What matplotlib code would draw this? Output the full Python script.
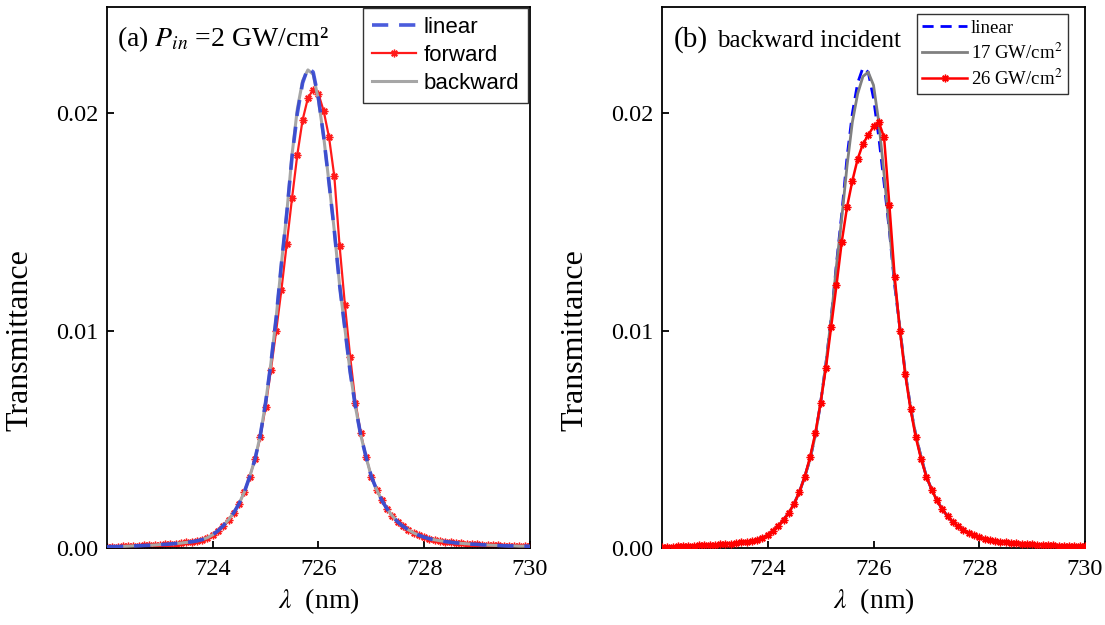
import matplotlib
matplotlib.use('Agg')
import matplotlib.pyplot as plt
import numpy as np

plt.rcParams['font.family'] = ['Liberation Serif', 'DejaVu Serif']
plt.rcParams['mathtext.fontset'] = 'stix'

# wavelength grid (nm), 0.1 nm step
wavelength = np.linspace(722, 730, 81)

# transmittance, 722.0 ... 730.0
linear = [
    0.00007, 0.00008, 0.00008, 0.00009, 0.00010, 0.00011, 0.00012, 0.00013, 0.00014, 0.00015,
    0.00017, 0.00018, 0.00020, 0.00022, 0.00024, 0.00027, 0.00030, 0.00034, 0.00040, 0.00049,
    0.00062, 0.00081, 0.00104, 0.00132, 0.00164, 0.00206, 0.00260, 0.00330, 0.00410, 0.00520,
    0.00670, 0.00850, 0.01060, 0.01310, 0.01540, 0.01800, 0.02000, 0.02140, 0.02210, 0.02190,
    0.02070, 0.01890, 0.01680, 0.01460, 0.01210, 0.01010, 0.00810, 0.00650, 0.00520, 0.00420,
    0.00330, 0.00270, 0.00220, 0.00180, 0.00148, 0.00121, 0.00101, 0.00085, 0.00071, 0.00060,
    0.00051, 0.00044, 0.00039, 0.00035, 0.00031, 0.00028, 0.00025, 0.00023, 0.00021, 0.00019,
    0.00018, 0.00016, 0.00015, 0.00014, 0.00013, 0.00012, 0.00011, 0.00011, 0.00010, 0.00010,
    0.00009]

forward = [
    0.00007, 0.00008, 0.00008, 0.00009, 0.00010, 0.00011, 0.00012, 0.00013, 0.00014, 0.00015,
    0.00017, 0.00018, 0.00020, 0.00022, 0.00024, 0.00027, 0.00030, 0.00034, 0.00040, 0.00049,
    0.00062, 0.00081, 0.00104, 0.00132, 0.00164, 0.00206, 0.00260, 0.00330, 0.00410, 0.00510,
    0.00650, 0.00820, 0.01000, 0.01190, 0.01400, 0.01610, 0.01810, 0.01970, 0.02070, 0.02110,
    0.02090, 0.02010, 0.01890, 0.01710, 0.01390, 0.01120, 0.00880, 0.00670, 0.00530, 0.00420,
    0.00330, 0.00270, 0.00220, 0.00180, 0.00148, 0.00121, 0.00101, 0.00085, 0.00071, 0.00060,
    0.00051, 0.00044, 0.00039, 0.00035, 0.00031, 0.00028, 0.00025, 0.00023, 0.00021, 0.00019,
    0.00018, 0.00016, 0.00015, 0.00014, 0.00013, 0.00012, 0.00011, 0.00011, 0.00010, 0.00010,
    0.00009]

backward = [
    0.00007, 0.00008, 0.00008, 0.00009, 0.00010, 0.00011, 0.00012, 0.00013, 0.00014, 0.00015,
    0.00017, 0.00018, 0.00020, 0.00022, 0.00024, 0.00027, 0.00030, 0.00034, 0.00040, 0.00049,
    0.00062, 0.00081, 0.00104, 0.00132, 0.00164, 0.00206, 0.00260, 0.00330, 0.00410, 0.00520,
    0.00670, 0.00850, 0.01060, 0.01310, 0.01540, 0.01810, 0.02020, 0.02150, 0.02200, 0.02180,
    0.02060, 0.01890, 0.01680, 0.01460, 0.01210, 0.01010, 0.00810, 0.00650, 0.00520, 0.00420,
    0.00330, 0.00270, 0.00220, 0.00180, 0.00148, 0.00121, 0.00101, 0.00085, 0.00071, 0.00060,
    0.00051, 0.00044, 0.00039, 0.00035, 0.00031, 0.00028, 0.00025, 0.00023, 0.00021, 0.00019,
    0.00018, 0.00016, 0.00015, 0.00014, 0.00013, 0.00012, 0.00011, 0.00011, 0.00010, 0.00010,
    0.00009]

back_17 = [
    0.00007, 0.00008, 0.00008, 0.00009, 0.00010, 0.00011, 0.00012, 0.00013, 0.00014, 0.00015,
    0.00017, 0.00018, 0.00020, 0.00022, 0.00024, 0.00027, 0.00030, 0.00034, 0.00040, 0.00049,
    0.00062, 0.00081, 0.00104, 0.00132, 0.00164, 0.00206, 0.00260, 0.00330, 0.00410, 0.00520,
    0.00670, 0.00850, 0.01060, 0.01300, 0.01520, 0.01760, 0.01960, 0.02090, 0.02170, 0.02190,
    0.02130, 0.01960, 0.01720, 0.01470, 0.01220, 0.01010, 0.00810, 0.00650, 0.00520, 0.00420,
    0.00330, 0.00270, 0.00220, 0.00180, 0.00148, 0.00121, 0.00101, 0.00085, 0.00071, 0.00060,
    0.00051, 0.00044, 0.00039, 0.00035, 0.00031, 0.00028, 0.00025, 0.00023, 0.00021, 0.00019,
    0.00018, 0.00016, 0.00015, 0.00014, 0.00013, 0.00012, 0.00011, 0.00011, 0.00010, 0.00010,
    0.00009]

back_26 = [
    0.00007, 0.00008, 0.00008, 0.00009, 0.00010, 0.00011, 0.00012, 0.00013, 0.00014, 0.00015,
    0.00017, 0.00018, 0.00020, 0.00022, 0.00024, 0.00027, 0.00030, 0.00034, 0.00040, 0.00049,
    0.00062, 0.00081, 0.00104, 0.00132, 0.00164, 0.00206, 0.00260, 0.00330, 0.00420, 0.00530,
    0.00670, 0.00830, 0.01020, 0.01210, 0.01410, 0.01570, 0.01690, 0.01790, 0.01860, 0.01900,
    0.01940, 0.01960, 0.01890, 0.01580, 0.01250, 0.01000, 0.00800, 0.00640, 0.00510, 0.00410,
    0.00330, 0.00270, 0.00220, 0.00180, 0.00147, 0.00121, 0.00101, 0.00085, 0.00071, 0.00060,
    0.00051, 0.00044, 0.00039, 0.00035, 0.00031, 0.00028, 0.00025, 0.00023, 0.00021, 0.00019,
    0.00018, 0.00016, 0.00015, 0.00014, 0.00013, 0.00012, 0.00011, 0.00011, 0.00010, 0.00010,
    0.00009]

x_ticks = [724, 726, 728, 730]
y_ticks = [0.00, 0.01, 0.02]
y_ticklabels = ['0.00', '0.01', '0.02']

star = (8, 2, 0)


def style_axes(ax):
    ax.set_xlim(722, 730)
    ax.set_ylim(0, 0.0249)
    ax.set_xticks(x_ticks)
    ax.set_yticks(y_ticks)
    ax.set_yticklabels(y_ticklabels)
    ax.tick_params(direction='in', length=5, width=1.3, labelsize=17.5)
    ax.tick_params(axis='x', pad=8)
    ax.tick_params(axis='y', pad=6)
    for s in ax.spines.values():
        s.set_linewidth(1.3)
    ax.set_xlabel(r'$\lambda$  (nm)', fontsize=20, labelpad=4)
    ax.set_ylabel('Transmittance', fontsize=23)
    ax.yaxis.set_label_coords(-0.172, 0.385)


fig = plt.figure(figsize=(11.05, 6.25), dpi=100)
ax1 = fig.add_axes([0.0968, 0.1227, 0.3828, 0.8663])
ax2 = fig.add_axes([0.5991, 0.1227, 0.3828, 0.8663])

# (a)
ax1.plot(wavelength, forward, color='#ff1a1a', lw=1.6, marker=star, ms=5.5, mew=1.0,
         label='forward', zorder=2)
ax1.plot(wavelength, backward, color='#a6a6a6', lw=2.2, label='backward', zorder=3)
ax1.plot(wavelength, linear, color='#2b3fd6', lw=2.6, dashes=(4.5, 3), alpha=0.85,
         label='linear', zorder=4)
style_axes(ax1)
ax1.text(0.024, 0.94, r'(a) $P_{in}$ =2 GW/cm²', transform=ax1.transAxes,
         fontsize=20, va='center', ha='left')
h, l = ax1.get_legend_handles_labels()
order = [l.index('linear'), l.index('forward'), l.index('backward')]
leg1 = ax1.legend([h[i] for i in order], [l[i] for i in order], loc='upper right',
                  bbox_to_anchor=(0.995, 0.997), prop={'family': 'Liberation Sans', 'size': 16},
                  frameon=True, fancybox=False, edgecolor='#333333', framealpha=1,
                  handlelength=2.0, handletextpad=0.35, labelspacing=0.32,
                  borderpad=0.38, borderaxespad=0)
leg1.get_frame().set_linewidth(1.0)

# (b)
ax2.plot(wavelength, linear, color='#0000ff', lw=2.0, dashes=(4, 2.5), label='linear', zorder=2)
ax2.plot(wavelength, back_17, color='#808080', lw=2.0, label='17 GW/cm$^2$', zorder=3)
ax2.plot(wavelength, back_26, color='#ff0000', lw=1.8, marker=star, ms=5.5, mew=1.0,
         label='26 GW/cm$^2$', zorder=4)
style_axes(ax2)
ax2.text(0.027, 0.94, '(b)', transform=ax2.transAxes, fontsize=21, va='center', ha='left')
ax2.text(0.13, 0.937, 'backward incident', transform=ax2.transAxes, fontsize=18,
         va='center', ha='left')
leg2 = ax2.legend(loc='upper right', bbox_to_anchor=(0.96, 0.987), fontsize=13.5,
                  frameon=True, fancybox=False, edgecolor='#333333', framealpha=1,
                  handlelength=2.4, handletextpad=0.2, labelspacing=0.3,
                  borderpad=0.3, borderaxespad=0)
leg2.get_frame().set_linewidth(1.0)

fig.savefig('out.png', dpi=100)
